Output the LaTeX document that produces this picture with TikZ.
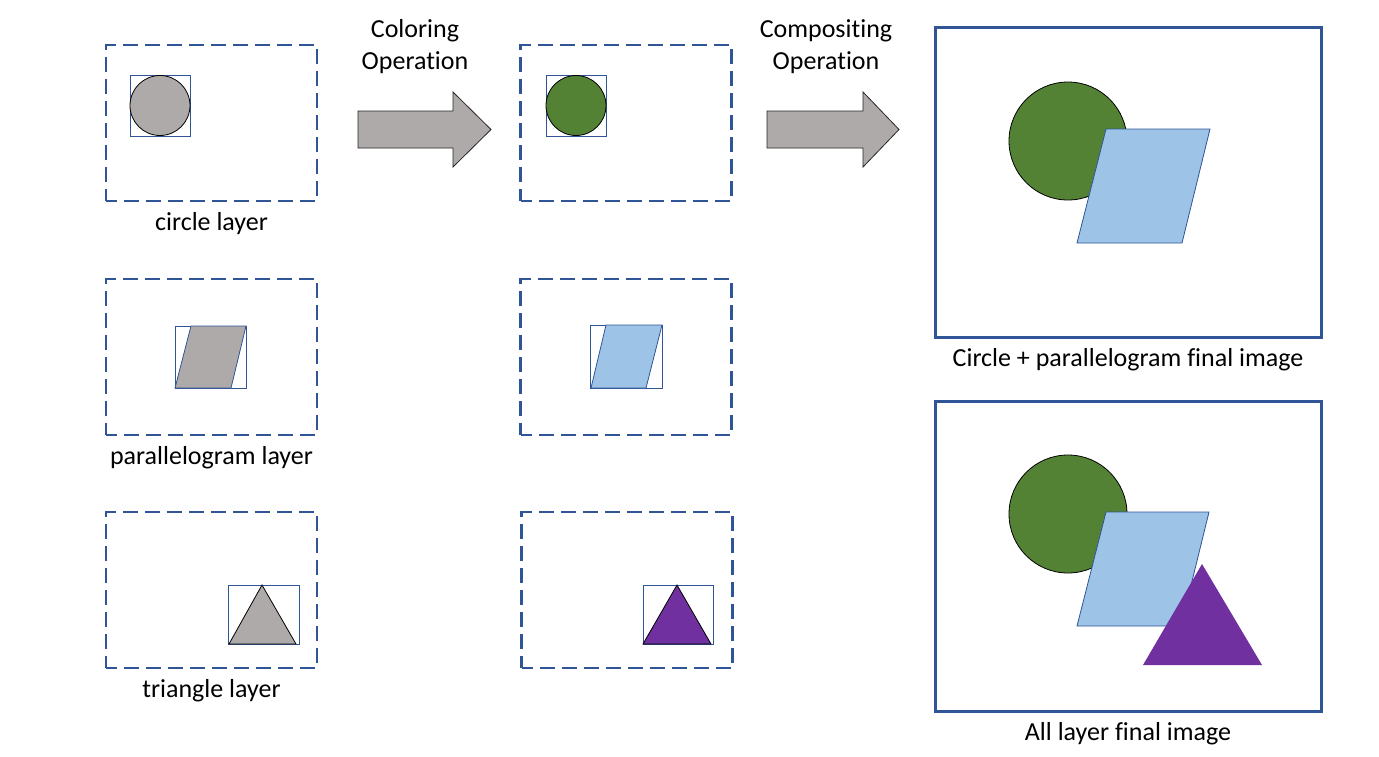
\documentclass[tikz,border=0pt]{standalone}
\usepackage{fontspec}
\setmainfont{Carlito}[Ligatures={NoCommon,NoContextual}]
\usetikzlibrary{positioning}
\definecolor{layerblue}{RGB}{47,85,151}
\definecolor{shapegray}{RGB}{174,170,170}
\definecolor{leafgreen}{RGB}{84,130,53}
\definecolor{skyblue}{RGB}{157,195,230}
\definecolor{plum}{RGB}{112,48,160}

\begin{document}
\begin{tikzpicture}[x=1pt,y=-1pt,
        layer box/.style={draw=layerblue,line width=2.8pt,dash pattern=on 15pt off 7pt,dash phase=4pt,
            minimum width=211pt,minimum height=156pt,inner sep=0pt},
        final box/.style={draw=layerblue,line width=3pt,
            minimum width=386pt,minimum height=310pt,inner sep=0pt},
        clip box/.style={draw=layerblue,line width=0.8pt},
        round shape/.style={draw=black,line width=0.8pt},
        slant shape/.style={draw=layerblue,line width=0.8pt},
        peak shape/.style={draw=black,line width=0.8pt},
        block arrow/.style={draw=black!85,line width=0.8pt,fill=shapegray},
        caption/.style={font=\fontsize{26}{32}\selectfont,align=center,inner sep=0pt}]

    \useasboundingbox (0,0) rectangle (1379,756);

    % layer frames
    \node[layer box] (circ in) at (211.5,123) {};
    \node[layer box] (para in) at (211.5,357) {};
    \node[layer box] (tri in) at (211.5,590) {};
    \node[layer box] (circ out) at (626,123) {};
    \node[layer box] (para out) at (626,357) {};
    \node[layer box] (tri out) at (627,590) {};
    \node[final box] (two final) at (1128,182.5) {};
    \node[final box] (all final) at (1128,556.5) {};

    % gray layers
    \draw[clip box] (130,75) rectangle (190,136);
    \fill[shapegray,round shape] (160,105.5) circle [radius=30];
    \draw[clip box] (175,326) rectangle (246,388);
    \fill[shapegray,slant shape] (191,326) -- (246,326) -- (231,388) -- (175,388) -- cycle;
    \draw[clip box] (228,585) rectangle (299,644);
    \fill[shapegray,peak shape] (229,644) -- (296,644) -- (262,585) -- cycle;

    % coloured layers
    \draw[clip box] (546,75) rectangle (606,136);
    \fill[leafgreen,round shape] (576,105.5) circle [radius=30];
    \draw[clip box] (590,325) rectangle (662,388);
    \fill[skyblue,slant shape] (606,325) -- (662,325) -- (646,388) -- (591,388) -- cycle;
    \draw[clip box] (643,585) rectangle (713,644);
    \fill[plum,peak shape] (643,644) -- (711,644) -- (677,585) -- cycle;

    % composites
    \fill[leafgreen,round shape] (1068,141) circle [radius=59];
    \fill[skyblue,slant shape] (1106,129) -- (1210,129) -- (1182,243) -- (1077,243) -- cycle;
    \fill[leafgreen,round shape] (1068,514) circle [radius=59];
    \fill[skyblue,slant shape] (1106,512) -- (1209,512) -- (1181,626) -- (1077,626) -- cycle;
    \fill[plum] (1143,665) -- (1262,665) -- (1202,564) -- cycle;

    % block arrows
    \draw[block arrow] (358,111) -- (453,111) -- (453,92) -- (491,129.5) -- (453,167) -- (453,148) -- (358,148) -- cycle;
    \draw[block arrow] (767,111) -- (863,111) -- (863,92) -- (899,129.5) -- (863,167) -- (863,148) -- (767,148) -- cycle;

    \node[caption] (coloring) at (415,47) {Coloring\\Operation};
    \node[caption] (compositing) at (826,47) {Compositing\\Operation};

    % captions
    \node[caption,below=28.5pt of circ in,anchor=base] (circ cap) {circle layer};
    \node[caption,below=28.5pt of para in,anchor=base] (para cap) {parallelogram layer};
    \node[caption,below=28.5pt of tri in,anchor=base] (tri cap) {triangle layer};
    \node[caption,below=27.5pt of two final,anchor=base] (two cap) {Circle + parallelogram final image};
    \node[caption,below=27pt of all final,anchor=base] (all cap) {All layer final image};
\end{tikzpicture}
\end{document}
